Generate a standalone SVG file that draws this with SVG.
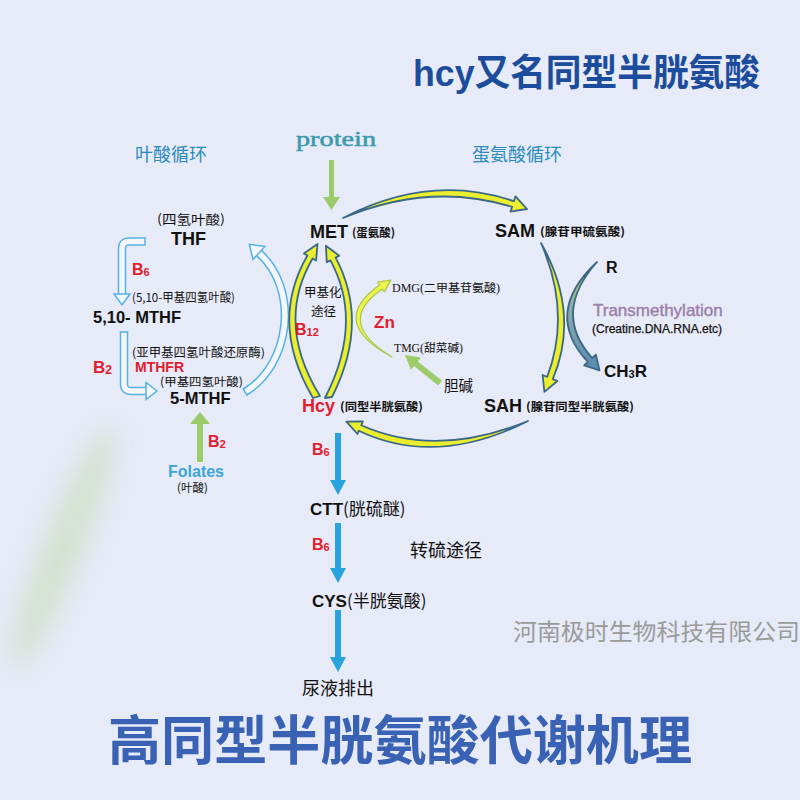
<svg xmlns="http://www.w3.org/2000/svg" width="800" height="800" viewBox="0 0 800 800">
<defs>
<style>
.b{font-family:"Liberation Sans","Noto Sans CJK SC",sans-serif;font-weight:bold;fill:#111}
.s{font-family:"Noto Sans CJK SC",sans-serif;fill:#111}
.sb{font-family:"Noto Sans CJK SC",sans-serif;font-weight:bold;fill:#111}
.sf{font-family:"Liberation Serif","Noto Sans CJK SC",serif;fill:#111}
.red{fill:#e0202e}
.ya{fill:#eaee2c;stroke:#3b6889;stroke-width:1.8;stroke-linejoin:round}
.yg{fill:#eef24a;stroke:#a6c84c;stroke-width:1.2;stroke-linejoin:round}
.blue{fill:#29a3de}
.green{fill:#9ccc6a}
.ob{fill:none;stroke:#55b2e2;stroke-width:8.5}
.ib{fill:none;stroke:#f4f6fd;stroke-width:5.5}
.hb{fill:#f4f6fd;stroke:#55b2e2;stroke-width:1.5;stroke-linejoin:miter}
.cap{stroke:#55b2e2;stroke-width:1.5}
.cyc{font-family:"Noto Sans CJK SC",sans-serif;font-size:18px;fill:#2a8cbc}
</style>
<filter id="blur" x="-2" y="-1" width="5" height="3"><feGaussianBlur stdDeviation="12"/></filter>
<linearGradient id="gr" x1="0" y1="0" x2="0" y2="1">
<stop offset="0" stop-color="#eaee2c"/>
<stop offset="0.4" stop-color="#8fb0a8"/>
<stop offset="1" stop-color="#5a88ae"/>
</linearGradient>
</defs>
<rect width="800" height="800" fill="#e7eaf7"/>
<ellipse cx="63" cy="548" rx="20" ry="128" transform="rotate(22 63 548)" fill="#c6dcb6" opacity="0.6" filter="url(#blur)"/>

<g id="titles">
<text x="413" y="86" font-family="Liberation Sans,Noto Sans CJK SC,sans-serif" font-weight="bold" font-size="37" fill="#1c4d9c" textLength="347" lengthAdjust="spacingAndGlyphs">hcy又名同型半胱氨酸</text>
<text x="108" y="760" font-family="Noto Sans CJK SC,sans-serif" font-weight="bold" font-size="53" fill="#3a62b4" textLength="584" lengthAdjust="spacingAndGlyphs">高同型半胱氨酸代谢机理</text>
<text x="513" y="640" font-family="Noto Sans CJK SC,sans-serif" font-size="23" fill="#9a9a9a" textLength="287" lengthAdjust="spacingAndGlyphs">河南极时生物科技有限公司</text>
<text class="cyc" x="135" y="161">叶酸循环</text>
<text class="cyc" x="472" y="161">蛋氨酸循环</text>
<text x="296" y="146" font-family="Liberation Serif,serif" font-size="21" fill="#3a9aae" stroke="#3a9aae" stroke-width="0.5" textLength="80" lengthAdjust="spacingAndGlyphs">protein</text>
</g>

<g id="connectors">
<path class="ob" d="M145 241.5 L129 241.5 Q122 241.5 122 248.5 L122 295"/>
<path class="ib" d="M145 241.5 L129 241.5 Q122 241.5 122 248.5 L122 295"/>
<line class="cap" x1="145" y1="237.25" x2="145" y2="245.75"/>
<polygon class="hb" points="114,294 130,294 122,305"/>

<path class="ob" d="M124 332 L124 384 Q124 391 131 391 L147 391"/>
<path class="ib" d="M124 332 L124 384 Q124 391 131 391 L147 391"/>
<line class="cap" x1="119.75" y1="332" x2="128.25" y2="332"/>
<polygon class="hb" points="146,382.5 146,399.5 157,391"/>

<path class="ob" d="M245 392 C290 365 300 290 259 253"/>
<path class="ib" d="M245 392 C290 365 300 290 259 253"/>
<line class="cap" x1="242.8" y1="388.4" x2="247.2" y2="395.6"/>
<polygon class="hb" points="265,246.4 249.4,244.3 253,259.5"/>

<polygon class="green" points="329,160 334,160 334,197 340,197 331.5,210 323,197 329,197"/>
<polygon class="green" points="197,462 203,462 203,424 210,424 200,412 190,424 197,424"/>
<polygon class="green" transform="translate(405,355) rotate(38.7)" points="0,0 14,-8 14,-3 45,-3 45,3 14,3 14,8"/>

<path class="ya" d="M343 218 Q430 172.5 513.9 201.2 L515.5 196.4 L527 209 L510.5 211.6 L512.1 206.9 Q430 181.5 343 218 Z"/>
<path class="ya" d="M541 243 Q580.5 313 552.8 379.1 L557.4 381 L544.4 391.9 L542.6 375 L547.2 376.9 Q571.5 313 541 243 Z"/>
<path d="M597 262 Q542.5 313 587.8 362 L584.1 365.4 L599.5 370.3 L595.9 354.6 L592.2 358 Q551.5 313 597 262 Z" fill="url(#gr)" stroke="#3b6889" stroke-width="1.8" stroke-linejoin="round"/>
<path class="ya" d="M528 421 Q436 467.5 358.7 430.7 L357.5 434 L346.4 421.7 L362.9 421.5 L361.3 425.3 Q436 458.5 528 421 Z"/>
<path class="ya" d="M313 398 Q268.5 323 307.4 255.5 L303.9 253.5 L317.5 244 L316.1 260.5 L312.6 258.5 Q275 323 320 396 Z"/>
<path class="ya" d="M332 397 Q370 322 335.6 257.6 L339.2 255.7 L325.9 245.8 L326.8 262.3 L330.4 260.4 Q364 322 325 398 Z"/>
<path class="yg" d="M392 357 Q327 322 379.6 285 L377.6 282.1 L390.8 280.1 L384.4 291.9 L382.4 289.1 Q334 322 392 357 Z"/>

<polygon class="blue" points="335,433 341,433 341,480 346,480 338,495 330,480 335,480"/>
<polygon class="blue" points="335,523 341,523 341,568 346,568 338,583 330,568 335,568"/>
<polygon class="blue" points="335,610 341,610 341,657 346,657 338,672 330,657 335,657"/>
</g>

<g id="THF">
<text class="s" x="157" y="224" font-size="13" textLength="68" lengthAdjust="spacingAndGlyphs">(四氢叶酸)</text>
<text class="b" x="171" y="245" font-size="18">THF</text>
</g>
<g id="B6-folate"><text class="b red" x="132" y="275" font-size="16">B<tspan font-size="11" dy="1">6</tspan></text></g>
<g id="MTHF510">
<text class="s" x="132" y="302" font-size="12" textLength="103" lengthAdjust="spacingAndGlyphs">(5,10-甲基四氢叶酸)</text>
<text class="b" x="93" y="323" font-size="16.5">5,10- MTHF</text>
</g>
<g id="MTHFR">
<text class="s" x="132" y="357" font-size="12" textLength="133" lengthAdjust="spacingAndGlyphs">(亚甲基四氢叶酸还原酶)</text>
<text class="b red" x="135" y="372" font-size="14">MTHFR</text>
<text class="b red" x="93" y="373" font-size="17">B<tspan font-size="12" dy="1">2</tspan></text>
</g>
<g id="MTHF5">
<text class="s" x="160" y="386" font-size="11.5" textLength="83" lengthAdjust="spacingAndGlyphs">(甲基四氢叶酸)</text>
<text class="b" x="170" y="404" font-size="16.5">5-MTHF</text>
</g>
<g id="Folates">
<text class="b red" x="208" y="447" font-size="16">B<tspan font-size="11.5" dy="1">2</tspan></text>
<text class="b" x="168" y="477" font-size="16" style="fill:#3aa5dc">Folates</text>
<text class="s" x="177" y="492" font-size="11.5">(叶酸)</text>
</g>

<g id="MET">
<text class="b" x="310" y="238" font-size="18">MET</text>
<text class="sb" x="352" y="237" font-size="11.5" textLength="43" lengthAdjust="spacingAndGlyphs">(蛋氨酸)</text>
</g>
<g id="SAM">
<text class="b" x="495" y="237" font-size="18">SAM</text>
<text class="sb" x="540" y="236" font-size="11.5" textLength="85" lengthAdjust="spacingAndGlyphs">(腺苷甲硫氨酸)</text>
</g>
<g id="R"><text class="b" x="606" y="273" font-size="16">R</text></g>
<g id="Transmethylation">
<text x="593" y="316" font-family="Liberation Sans,sans-serif" font-size="17" fill="#9b7fa8" stroke="#9b7fa8" stroke-width="0.4">Transmethylation</text>
<text x="592" y="333" font-family="Liberation Sans,sans-serif" font-size="12" fill="#111" stroke="#111" stroke-width="0.25">(Creatine.DNA.RNA.etc)</text>
</g>
<g id="CH3R"><text class="b" x="604" y="377" font-size="17">CH<tspan font-size="11" dy="1">3</tspan><tspan dy="-1">R</tspan></text></g>
<g id="SAH">
<text class="b" x="484" y="412" font-size="18">SAH</text>
<text class="sb" x="526" y="411" font-size="11.5" textLength="108" lengthAdjust="spacingAndGlyphs">(腺苷同型半胱氨酸)</text>
</g>
<g id="Hcy">
<text class="b red" x="302" y="412" font-size="18">Hcy</text>
<text class="sb" x="340" y="411" font-size="11.5" textLength="83" lengthAdjust="spacingAndGlyphs">(同型半胱氨酸)</text>
</g>
<g id="methylation">
<text class="s" x="304" y="297" font-size="12.5">甲基化</text>
<text class="s" x="311" y="316" font-size="12.5">途径</text>
<text class="b red" x="295" y="335" font-size="16">B<tspan font-size="11" dy="1">12</tspan></text>
</g>
<g id="Zn"><text class="b red" x="374" y="328" font-size="17">Zn</text></g>
<g id="DMG"><text class="sf" x="392" y="292" font-size="11.5" textLength="108" lengthAdjust="spacingAndGlyphs">DMG(二甲基苷氨酸)</text></g>
<g id="TMG"><text class="sf" x="394" y="352" font-size="11.5" textLength="69" lengthAdjust="spacingAndGlyphs">TMG(甜菜碱)</text></g>
<g id="choline"><text class="s" x="444" y="391" font-size="14.5">胆碱</text></g>

<g id="B6-a"><text class="b red" x="312" y="455" font-size="16">B<tspan font-size="11" dy="1">6</tspan></text></g>
<g id="CTT"><text class="b" x="310" y="515" font-size="17">CTT<tspan font-family="Noto Sans CJK SC,sans-serif" font-weight="normal">(胱硫醚)</tspan></text></g>
<g id="B6-b"><text class="b red" x="312" y="550" font-size="16">B<tspan font-size="11" dy="1">6</tspan></text></g>
<g id="transsulfuration"><text class="s" x="410" y="557" font-size="18">转硫途径</text></g>
<g id="CYS"><text class="b" x="312" y="607" font-size="17">CYS<tspan font-family="Noto Sans CJK SC,sans-serif" font-weight="normal">(半胱氨酸)</tspan></text></g>
<g id="urine"><text class="s" x="302" y="695" font-size="18">尿液排出</text></g>
</svg>
